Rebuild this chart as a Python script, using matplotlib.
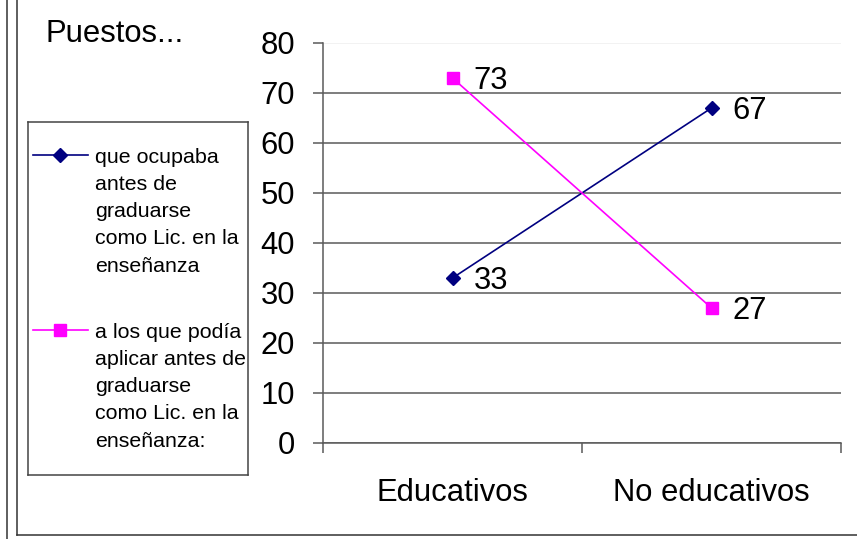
import matplotlib.pyplot as plt
from matplotlib.lines import Line2D

plt.rcParams['font.family'] = ['Liberation Sans', 'DejaVu Sans']

categories = ["Educativos", "No educativos"]
ocupaba = [33, 67]
podia_aplicar = [73, 27]
y_ticks = [0, 10, 20, 30, 40, 50, 60, 70, 80]

label_ocupaba = ["que ocupaba", "antes de", "graduarse", "como Lic. en la", "enseñanza"]
label_podia = ["a los que podía", "aplicar antes de", "graduarse", "como Lic. en la", "enseñanza:"]

navy = "#000080"
magenta = "#FF00FF"
grid_c = "#5a5a5a"

W, H = 857, 539
fig = plt.figure(figsize=(W / 100, H / 100), dpi=100)

def px(x0, y0, x1, y1):
    # rect in pixel coords (top-left origin) -> figure fraction
    return [x0 / W, 1 - y1 / H, (x1 - x0) / W, (y1 - y0) / H]

ax = fig.add_axes(px(323, 43, 841, 443))
x = list(range(len(categories)))
ax.plot(x, ocupaba, color=navy, lw=1.2, marker="D", ms=7, zorder=3)
ax.plot(x, podia_aplicar, color=magenta, lw=1.2, marker="s", ms=8.6, zorder=3)

for xi, v in zip(x, ocupaba):
    ax.annotate(str(v), (xi, v), xytext=(15, -8), textcoords="offset points",
                fontsize=22.3, va="baseline", ha="left")
for xi, v in zip(x, podia_aplicar):
    ax.annotate(str(v), (xi, v), xytext=(15, -8), textcoords="offset points",
                fontsize=22.3, va="baseline", ha="left")

ax.set_xlim(-0.5, len(categories) - 0.5)
ax.set_ylim(0, 80)
ax.set_yticks(y_ticks)
ax.set_xticks([-0.5, 0.5, 1.5])
ax.set_xticklabels([])
ax.set_xticks(x, minor=True)
ax.set_xticklabels(categories, minor=True, fontsize=22.3)
ax.tick_params(axis="x", which="minor", length=0, pad=25)
ax.tick_params(axis="x", which="major", direction="out", length=7, width=1.1, color=grid_c)
ax.tick_params(axis="y", direction="out", length=7, width=1.1, color=grid_c,
               labelsize=22.3, pad=13)

ax.yaxis.grid(True, color=grid_c, lw=1.1)
ax.get_ygridlines()[-1].set_color("#efefef")
ax.set_axisbelow(True)
for s in ["top", "right"]:
    ax.spines[s].set_visible(False)
for s in ["left", "bottom"]:
    ax.spines[s].set_color(grid_c)
    ax.spines[s].set_linewidth(1.1)

fig.text(45 / W, 1 - 42 / H, "Puestos...", fontsize=22.3, va="baseline", ha="left")

# legend box drawn by hand so the key sits on the first text line
lg = fig.add_axes(px(28, 122, 248, 475))
lg.set_xlim(0, 220)
lg.set_ylim(353, 0)
lg.set_xticks([])
lg.set_yticks([])
for s in lg.spines.values():
    s.set_color("#444444")
    s.set_linewidth(1.1)

step = 27.3
for y0, color, mk, ms, lines in [(33, navy, "D", 7, label_ocupaba),
                                  (208, magenta, "s", 8.6, label_podia)]:
    lg.plot([5, 60], [y0, y0], color=color, lw=1.2)
    lg.plot([32], [y0], color=color, marker=mk, ms=ms, ls="none")
    for i, t in enumerate(lines):
        lg.text(67, y0 + i * step, t, fontsize=15.4, va="center_baseline", ha="left")

# outer chart frame
fr = dict(color="#333333", lw=1.1, transform=fig.transFigure)
fig.add_artist(Line2D([7.5 / W, 7.5 / W], [0, 1], **fr))
fig.add_artist(Line2D([17 / W, 17 / W], [1 - 535 / H, 1], **fr))
fig.add_artist(Line2D([17 / W, 1], [1 - 535 / H, 1 - 535 / H], **fr))

fig.savefig("out.png", dpi=100)
